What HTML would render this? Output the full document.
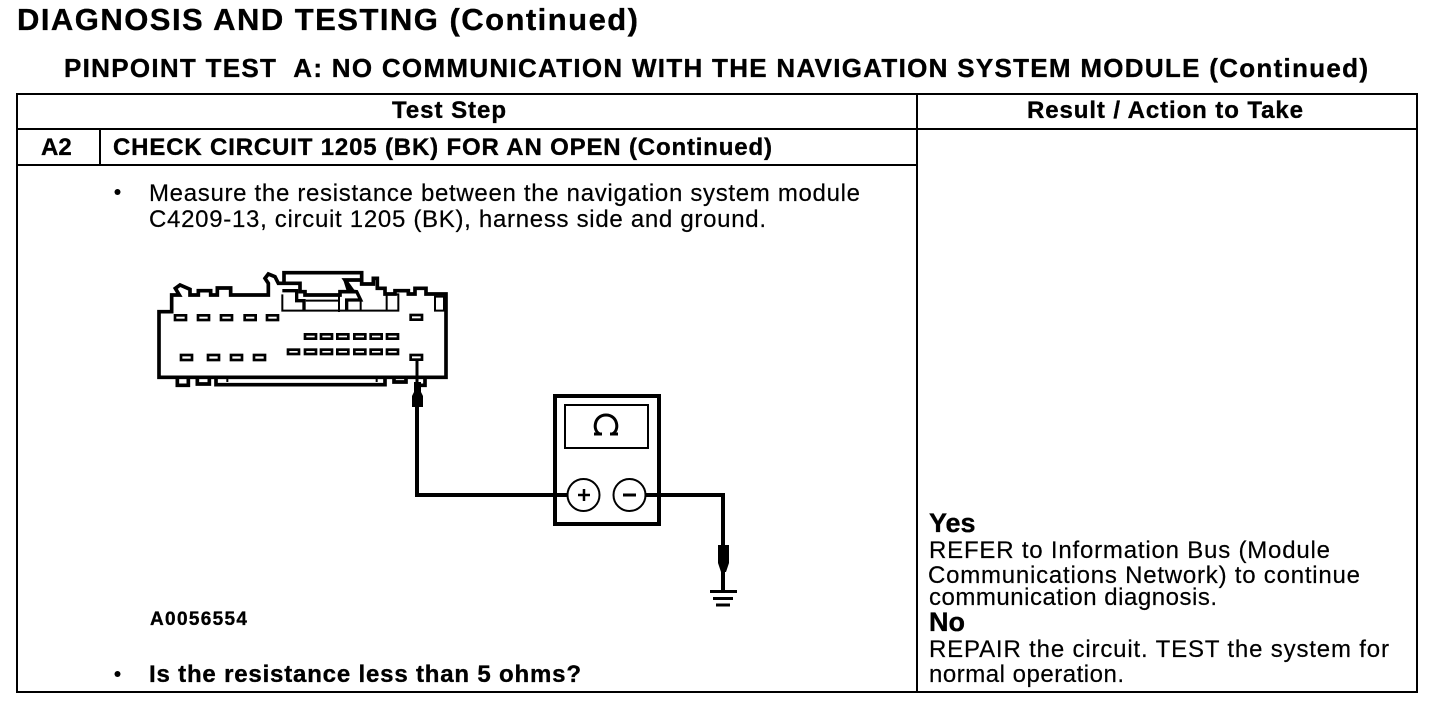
<!DOCTYPE html>
<html><head><meta charset="utf-8"><style>
html,body{margin:0;padding:0;background:#fff}
svg{display:block}
text{font-family:"Liberation Sans",sans-serif;fill:#000;stroke:#000;stroke-width:.2px;white-space:pre}
.b{font-weight:bold;stroke-width:.35px}
</style></head><body>
<svg width="1456" height="706" viewBox="0 0 1456 706" xmlns="http://www.w3.org/2000/svg">
<rect width="1456" height="706" fill="#fff"/>
<text class="b" x="17" y="30" font-size="31" textLength="621" lengthAdjust="spacing">DIAGNOSIS AND TESTING (Continued)</text>
<text class="b" x="64" y="77" font-size="26" textLength="1304" lengthAdjust="spacing" xml:space="preserve">PINPOINT TEST  A: NO COMMUNICATION WITH THE NAVIGATION SYSTEM MODULE (Continued)</text>
<g fill="none" stroke="#000" stroke-width="2">
<rect x="17" y="94" width="1400" height="598"/>
<path d="M17 129H1417M17 165H917M917 94V692M100 129V165"/>
</g>
<text class="b" x="392" y="118" font-size="24" textLength="114" lengthAdjust="spacing">Test Step</text>
<text class="b" x="1027" y="118" font-size="24" textLength="276" lengthAdjust="spacing">Result / Action to Take</text>
<text class="b" x="41" y="155" font-size="24">A2</text>
<text class="b" x="113" y="155" font-size="24" textLength="659" lengthAdjust="spacing">CHECK CIRCUIT 1205 (BK) FOR AN OPEN (Continued)</text>
<circle cx="117.500" cy="192" r="3" fill="#000"/>
<text x="149" y="201" font-size="24" textLength="711" lengthAdjust="spacing">Measure the resistance between the navigation system module</text>
<text x="149" y="227" font-size="24" textLength="617" lengthAdjust="spacing">C4209-13, circuit 1205 (BK), harness side and ground.</text>
<text class="b" x="150" y="625" font-size="19" textLength="97" lengthAdjust="spacing">A0056554</text>
<circle cx="117.500" cy="674" r="3" fill="#000"/>
<text class="b" x="149" y="682" font-size="24" textLength="432" lengthAdjust="spacing">Is the resistance less than 5 ohms?</text>
<text class="b" x="929" y="532" font-size="27">Yes</text>
<text x="929" y="558" font-size="24" textLength="401" lengthAdjust="spacing">REFER to Information Bus (Module</text>
<text x="928" y="583" font-size="24" textLength="432" lengthAdjust="spacing">Communications Network) to continue</text>
<text x="929" y="605" font-size="24" textLength="288" lengthAdjust="spacing">communication diagnosis.</text>
<text class="b" x="929" y="631" font-size="27">No</text>
<text x="929" y="657" font-size="24" textLength="460" lengthAdjust="spacing">REPAIR the circuit. TEST the system for</text>
<text x="929" y="682" font-size="24" textLength="195" lengthAdjust="spacing">normal operation.</text>

<g transform="translate(140 260) scale(0.33333)" fill="none" stroke="#000" stroke-linejoin="miter">
<path stroke-width="11" d="M57 352V155H95V105H118L106 85L120 75L150 88V105H175V92H212V105H232V84H272V105H385V70L375 55L385 42L405 50L415 70H480V95H495V105H600V95H640L615 60H665V72H700V55H712V85H735V102H765V92H805V102H825V85H858V102H918V352Z"/>
<path stroke-width="11" d="M432 70V38H665V60"/>
<path stroke-width="6" d="M427 103V152H775V103H740V152M497 122H600M597 100V156M662 122V152M885 110H912V152H885Z"/>
<path stroke-width="10" d="M427 92H470V122H492V152M615 60L625 92L650 95L662 120H620V152"/>
<path stroke-width="11" d="M112 352V376H145V352M172 352V372H208V352M228 352V374H735V352M762 352V366H798V352M855 352V376H825"/>
<path stroke-width="6" d="M262 352V366M710 352V366"/>
<g stroke-width="8">
<rect x="105" y="166" width="33" height="14"/><rect x="174" y="166" width="33" height="14"/><rect x="243" y="166" width="33" height="14"/><rect x="314" y="166" width="33" height="14"/><rect x="381" y="166" width="33" height="14"/><rect x="812" y="165" width="34" height="14"/>
<rect x="495" y="223" width="33" height="13"/><rect x="543" y="223" width="33" height="13"/><rect x="592" y="223" width="33" height="13"/><rect x="643" y="223" width="33" height="13"/><rect x="692" y="223" width="33" height="13"/><rect x="741" y="223" width="33" height="13"/>
<rect x="444" y="269" width="33" height="13"/><rect x="495" y="269" width="33" height="13"/><rect x="543" y="269" width="33" height="13"/><rect x="592" y="269" width="33" height="13"/><rect x="643" y="269" width="33" height="13"/><rect x="692" y="269" width="33" height="13"/><rect x="741" y="269" width="33" height="13"/>
<rect x="123" y="285" width="33" height="15"/><rect x="204" y="285" width="33" height="15"/><rect x="273" y="285" width="33" height="15"/><rect x="342" y="285" width="33" height="15"/><rect x="812" y="285" width="34" height="14"/>
</g>
</g>

<g fill="none" stroke="#000">
<path stroke-width="3" d="M417 360V385"/>
<path stroke-width="4" d="M417 405V495H567M645 495H723V592"/>
<rect x="555" y="396" width="104" height="128" stroke-width="4"/>
<rect x="565" y="405" width="83" height="43" stroke-width="2"/>
<circle cx="583.500" cy="495" r="16" stroke-width="2" fill="#fff"/>
<circle cx="629.500" cy="495" r="16" stroke-width="2" fill="#fff"/>
<path stroke-width="2.500" d="M578 495H590M584 489V501"/>
<path stroke-width="3" d="M623 495H636"/>
<path stroke-width="3" d="M710 591.500H737M713 598.500H733M716 605H730"/>
<path stroke-width="3" d="M600 434C592 431 594 415 606 415C618 415 620 431 612 434M594 434H602M610 434H618"/>
</g>
<path fill="#000" d="M414 382H421V392L423 396V407H412V396L414 392Z"/>
<path fill="#000" d="M718 545H729V563L726 572H721L718 563Z"/>
</svg>
</body></html>
